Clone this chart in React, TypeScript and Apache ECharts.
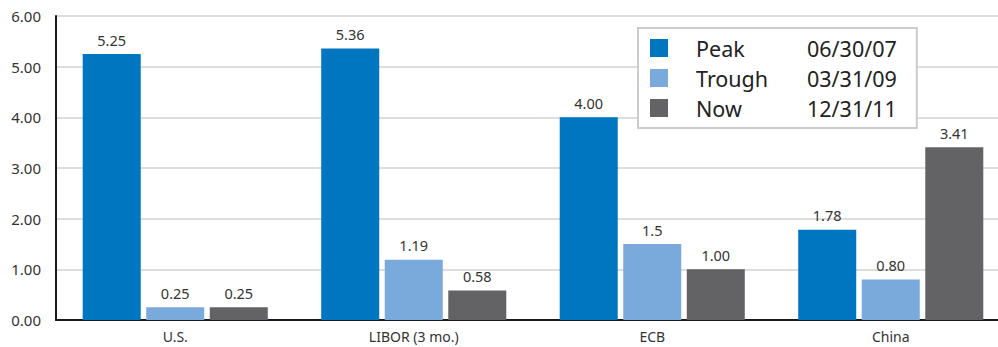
import { useEffect, useRef } from "react";
import * as echarts from "echarts";

const categories = ["U.S.", "LIBOR (3 mo.)", "ECB", "China"];
const seriesNames = ["Peak", "Trough", "Now"];
const seriesDates = ["06/30/07", "03/31/09", "12/31/11"];
const seriesColors = ["#0076c0", "#7aaadb", "#636366"];

const peakValues = [5.25, 5.36, 4.0, 1.78];
const troughValues = [0.25, 1.19, 1.5, 0.8];
const nowValues = [0.25, 0.58, 1.0, 3.41];

const peakLabels = ["5.25", "5.36", "4.00", "1.78"];
const troughLabels = ["0.25", "1.19", "1.5", "0.80"];
const nowLabels = ["0.25", "0.58", "1.00", "3.41"];

const yTicks = { min: 0, max: 6, interval: 1 };

const FONT = "Noto Sans";

export default function App() {
  const ref = useRef<HTMLDivElement>(null);

  useEffect(() => {
    if (!ref.current) return;
    const chart = echarts.init(ref.current, undefined, { renderer: "svg" });

    const valueSets = [peakValues, troughValues, nowValues];
    const labelSets = [peakLabels, troughLabels, nowLabels];

    const series = seriesNames.map((name, i) => ({
      name,
      type: "bar",
      data: valueSets[i],
      barGap: "9.5%",
      barCategoryGap: "22.4%",
      itemStyle: { color: seriesColors[i] },
      label: {
        show: true,
        position: "top",
        distance: 7,
        fontFamily: FONT,
        fontSize: 14.5,
        color: "#333333",
        formatter: (p: any) => labelSets[i][p.dataIndex],
      },
    }));

    chart.setOption({
      animation: false,
      textStyle: { fontFamily: FONT },
      // the plot area runs slightly past the right edge of the canvas
      grid: {
        left: 56,
        width: 954,
        top: 16,
        bottom: 27,
        containLabel: false,
        outerBoundsMode: "none",
      },
      legend: {
        orient: "vertical",
        left: 638,
        top: 28,
        padding: [9, 20, 9, 12],
        borderColor: "#cccccc",
        borderWidth: 2,
        backgroundColor: "#ffffff",
        itemWidth: 18,
        itemHeight: 18,
        itemGap: 8,
        icon: "rect",
        data: seriesNames,
        formatter: (name: string) => {
          const i = seriesNames.indexOf(name);
          return `{n|${name}}{d|${seriesDates[i]}}`;
        },
        textStyle: {
          fontFamily: FONT,
          fontSize: 21.5,
          color: "#222222",
          rich: {
            n: {
              width: 111,
              padding: [0, 0, 0, 23],
              fontSize: 21.5,
              lineHeight: 22,
              fontFamily: FONT,
              color: "#222222",
            },
            d: { fontSize: 21.5, lineHeight: 22, fontFamily: FONT, color: "#222222" },
          },
        },
      },
      xAxis: {
        type: "category",
        data: categories,
        axisLine: { lineStyle: { color: "#1a1a1a", width: 2 } },
        axisTick: { show: false },
        axisLabel: { fontFamily: FONT, fontSize: 14, color: "#333333", margin: 9 },
      },
      yAxis: {
        type: "value",
        min: yTicks.min,
        max: yTicks.max,
        interval: yTicks.interval,
        axisLine: { show: true, lineStyle: { color: "#1a1a1a", width: 2 } },
        axisTick: { show: false },
        axisLabel: {
          fontFamily: FONT,
          fontSize: 15,
          color: "#333333",
          margin: 15,
          formatter: (v: number) => v.toFixed(2),
        },
        splitLine: { lineStyle: { color: "#dddddd", width: 2 } },
      },
      series,
    });

    return () => chart.dispose();
  }, []);

  return (
    <div
      ref={ref}
      style={{ position: "absolute", left: 0, top: 0, width: 998, height: 347 }}
    />
  );
}
